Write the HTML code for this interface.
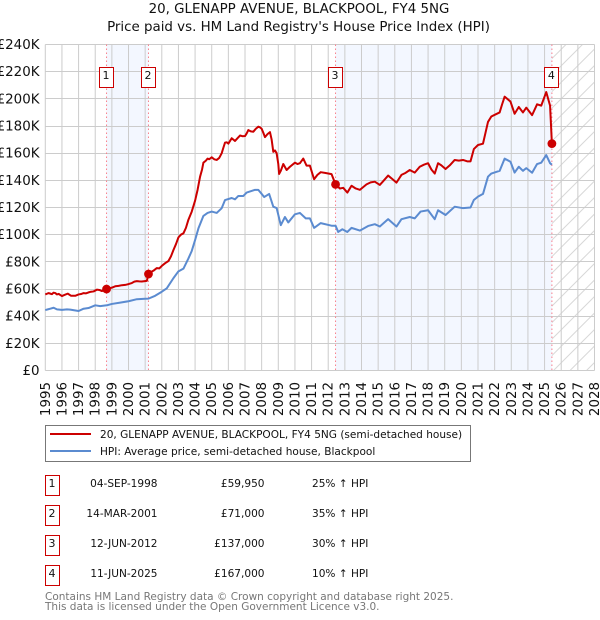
<!DOCTYPE html>
<html>
<head>
<meta charset="utf-8">
<title>20, GLENAPP AVENUE, BLACKPOOL, FY4 5NG</title>
<style>
html,body{margin:0;padding:0;background:#fff;}
svg{display:block;}
text{font-family:"DejaVu Sans","Liberation Sans",sans-serif;fill:#111;}
</style>
</head>
<body>
<svg id="chart" width="600" height="620" viewBox="0 0 600 620" xmlns="http://www.w3.org/2000/svg">
<defs>
<pattern id="hatch" patternUnits="userSpaceOnUse" width="16.5" height="16.5">
<path d="M-2 18.5L18.5 -2M-2 2L2 -2M14.5 18.5L18.5 14.5" stroke="#d8d8d8" stroke-width="1" fill="none"/>
</pattern>
</defs>
<text x="299" y="13" font-size="13.4" text-anchor="middle">20, GLENAPP AVENUE, BLACKPOOL, FY4 5NG</text>
<text x="298.5" y="31" font-size="13.4" text-anchor="middle">Price paid vs. HM Land Registry's House Price Index (HPI)</text>
<g id="bands"></g>
<g id="grid"></g>
<g id="vlines"></g>
<g id="series"></g>
<g id="marks"></g>
<g id="yaxis"></g>
<g id="xaxis"></g>

<g>
<rect x="45.5" y="425.5" width="425" height="36" fill="#fff" stroke="#777" stroke-width="1"/>
<line x1="50" x2="91" y1="434" y2="434" stroke="#cc0000" stroke-width="2"/>
<text x="100" y="438" font-size="10.55">20, GLENAPP AVENUE, BLACKPOOL, FY4 5NG (semi-detached house)</text>
<line x1="50" x2="91" y1="451" y2="451" stroke="#5b8bd0" stroke-width="2"/>
<text x="100" y="455" font-size="10.55">HPI: Average price, semi-detached house, Blackpool</text>
</g>
<g id="table"></g>
<text x="45" y="600" font-size="10.5" style="fill:#777">Contains HM Land Registry data © Crown copyright and database right 2025.</text>
<text x="45" y="610" font-size="10.5" style="fill:#777">This data is licensed under the Open Government Licence v3.0.</text>
</svg>
<script>
var yTicks = [0,20,40,60,80,100,120,140,160,180,200,220,240];
var yTickLabels = ["£0","£20K","£40K","£60K","£80K","£100K","£120K","£140K","£160K","£180K","£200K","£220K","£240K"];
var xTicks = [1995,1996,1997,1998,1999,2000,2001,2002,2003,2004,2005,2006,2007,2008,2009,2010,2011,2012,2013,2014,2015,2016,2017,2018,2019,2020,2021,2022,2023,2024,2025,2026,2027,2028];

var priceDates = [1995,1995.1,1995.2,1995.3,1995.4,1995.5,1995.6,1995.7,1995.8,1996,1996.15,1996.35,1996.55,1996.8,1997,1997.15,1997.3,1997.45,1997.6,1997.75,1997.9,1998.1,1998.25,1998.4,1998.68,1998.85,1999,1999.2,1999.4,1999.6,1999.8,2000,2000.2,2000.35,2000.5,2000.65,2000.8,2001.1,2001.2,2001.35,2001.5,2001.7,2001.85,2002,2002.2,2002.4,2002.55,2002.7,2002.85,2003,2003.15,2003.3,2003.45,2003.6,2003.8,2004,2004.15,2004.3,2004.42,2004.5,2004.65,2004.75,2004.85,2005,2005.15,2005.3,2005.45,2005.6,2005.7,2005.8,2005.9,2006,2006.1,2006.2,2006.4,2006.55,2006.7,2006.85,2007,2007.1,2007.2,2007.35,2007.5,2007.65,2007.8,2007.9,2008,2008.1,2008.2,2008.35,2008.5,2008.6,2008.7,2008.8,2008.9,2009,2009.05,2009.15,2009.3,2009.5,2009.7,2010,2010.15,2010.3,2010.5,2010.7,2010.9,2011.15,2011.35,2011.55,2011.8,2012.2,2012.44,2012.7,2012.9,2013.15,2013.4,2013.65,2013.9,2014.1,2014.3,2014.55,2014.8,2015.1,2015.35,2015.6,2015.85,2016.1,2016.4,2016.65,2016.9,2017.2,2017.5,2017.75,2018,2018.2,2018.4,2018.6,2018.8,2019.05,2019.3,2019.6,2019.85,2020.1,2020.35,2020.55,2020.75,2021,2021.3,2021.45,2021.6,2021.8,2022.05,2022.3,2022.45,2022.6,2022.95,2023.2,2023.45,2023.7,2023.9,2024.25,2024.55,2024.8,2025.1,2025.33,2025.44];
var priceValues = [56,56.5,57,56.6,56.2,57.3,57,56,56.4,54.8,55.6,56.6,55,55,56,56.3,57,56.8,57.5,58,58.2,59.5,59.3,58.5,59.95,60.5,61,62,62.3,62.8,63,63.6,64.4,65.4,65.8,65.6,65.5,66,71,72.5,73.5,75.4,75.2,77,79,80.6,84,88.7,93,98,100,101,105,111,117,125,133,142.7,148,153,154.5,156,155.5,157,155.5,155,156.5,160,164,167.8,168,167,169,171,169,171,173,172.5,172.6,174.5,177,176,175.8,178,179.5,179,178,175,171.8,174,175.5,170,161,162,160,152,144.7,147,152,147.6,150,153,152,152.6,156,150.8,150.8,140.8,144,146,145.5,144.6,137,134,134.5,131,136,134,133,135,137,138.5,139,136.6,140,143.5,141,138.3,144,145.5,147.6,145.7,150,151.5,152.6,148,145,152.6,151,148.3,151,155,154.5,155,154,154,163,166,167,175,183,187,188.5,190,196,201.6,198,189,194,190,193.5,188,196,195,205,195,167];

var hpiDates = [1995,1995.15,1995.3,1995.5,1995.7,1996,1996.3,1996.5,1997,1997.3,1997.6,1998,1998.3,1998.7,1999,1999.5,2000,2000.5,2001,2001.2,2001.6,2002,2002.3,2002.7,2003,2003.3,2003.6,2003.8,2004,2004.2,2004.5,2004.75,2005,2005.3,2005.6,2005.8,2006.2,2006.4,2006.6,2006.9,2007.1,2007.35,2007.6,2007.8,2008,2008.15,2008.45,2008.7,2008.9,2009.15,2009.4,2009.6,2010,2010.3,2010.65,2010.9,2011.15,2011.55,2012.2,2012.44,2012.6,2012.85,2013.15,2013.4,2013.9,2014.4,2014.8,2015.1,2015.6,2016.1,2016.4,2016.9,2017.2,2017.55,2018,2018.4,2018.6,2019.05,2019.6,2020.1,2020.55,2020.75,2021,2021.3,2021.6,2021.8,2022.3,2022.6,2022.95,2023.2,2023.45,2023.7,2023.9,2024.25,2024.55,2024.8,2025.1,2025.33,2025.44];
var hpiValues = [44.5,45,45.5,46.2,45,44.6,45,44.8,43.8,45.5,46,48,47.4,48,49,50,51,52.5,52.8,52.9,55,58,60.5,68,73,75,82.5,88,96,104.6,113.8,116,117,116,119.5,125.5,127,126,128.5,128.5,131,132,133,133,130,127.7,130,120.6,119.6,107,113,109,115,116,112,112,105,108.5,106.6,106.6,102,104,102,105,103,106.4,107.7,106,111.4,106,111.4,113,112,117,118,111.4,118,114.5,120.6,119.5,120,125.5,128,130,142.7,145,147,156,153.7,145.7,150,147,149,145.6,152,153,158.6,152.6,151.5];

var saleLabels = ["1","2","3","4"];
var saleYears = [1998.68,2001.2,2012.44,2025.44];
var salePrices = [59.95,71,137,167];
var saleDateText = ["04-SEP-1998","14-MAR-2001","12-JUN-2012","11-JUN-2025"];
var salePriceText = ["£59,950","£71,000","£137,000","£167,000"];
var saleHpiText = ["25% ↑ HPI","35% ↑ HPI","30% ↑ HPI","10% ↑ HPI"];

var NS = "http://www.w3.org/2000/svg";
var xScale = function (year) { return 45.3 + (year - 1995) * (594.5 - 45.3) / 33; };
var yScale = function (k) { return 370.5 - k * (370.5 - 44.5) / 240; };
function mk(parent, tag, attrs, text) {
  var el = document.createElementNS(NS, tag);
  for (var k in attrs) el.setAttribute(k, attrs[k]);
  if (text !== undefined) el.textContent = text;
  parent.appendChild(el);
  return el;
}
var g, el, i;

g = document.getElementById("bands");
el = mk(g, "rect", {x: xScale(saleYears[0]), y: 44.5, width: xScale(saleYears[1]) - xScale(saleYears[0]), height: 326, fill: "#f3f7ff"});


el = mk(g, "rect", {x: xScale(saleYears[2]), y: 44.5, width: xScale(saleYears[3]) - xScale(saleYears[2]), height: 326, fill: "#f3f7ff"});


el = mk(g, "rect", {x: xScale(saleYears[3]), y: 44.5, width: 594.5 - xScale(saleYears[3]), height: 326, fill: "url(#hatch)"});



g = document.getElementById("grid");
for (i = 0; i < yTicks.length; i++) {
  el = mk(g, "line", {x1: 45.3, x2: 594.5, y1: Math.round(yScale(yTicks[i]) - 0.5) + 0.5, y2: Math.round(yScale(yTicks[i]) - 0.5) + 0.5, stroke: "#cccccc", "stroke-width": 1});
  
  
}
for (i = 0; i < xTicks.length; i++) {
  el = mk(g, "line", {x1: xScale(xTicks[i]), x2: xScale(xTicks[i]), y1: 44.5, y2: 370.5, stroke: "#cccccc", "stroke-width": 1});
  
  
}

g = document.getElementById("vlines");
for (i = 0; i < saleYears.length; i++) {
  el = mk(g, "line", {x1: xScale(saleYears[i]), x2: xScale(saleYears[i]), y1: 44.5, y2: 370.5, stroke: "#f8808c", "stroke-width": 1, "stroke-dasharray": "1.5,2.5"});
  
  
}

function linePath(dates, values) {
  var d = "";
  for (var j = 0; j < dates.length; j++) {
    d += (j ? "L" : "M") + xScale(dates[j]).toFixed(2) + " " + yScale(values[j]).toFixed(2);
  }
  return d;
}
g = document.getElementById("series");
el = mk(g, "path", {d: linePath(hpiDates, hpiValues), fill: "none", stroke: "#5b8bd0", "stroke-width": 2, "stroke-linejoin": "round"});


el = mk(g, "path", {d: linePath(priceDates, priceValues), fill: "none", stroke: "#cc0000", "stroke-width": 2, "stroke-linejoin": "round"});



g = document.getElementById("marks");
for (i = 0; i < saleYears.length; i++) {
  el = mk(g, "circle", {cx: xScale(saleYears[i]), cy: yScale(salePrices[i]), r: 4.4, fill: "#cc0000"});
  
  
  el = mk(g, "rect", {x: Math.round(xScale(saleYears[i]) - 7.5) + 0.5, y: 67.5, width: 14, height: 20, fill: "#fff", stroke: "#cc0000", "stroke-width": 1});
  
  
  el = mk(g, "text", {x: xScale(saleYears[i]) - 0.5, y: 79, "font-size": 11, "text-anchor": "middle"}, saleLabels[i]);
  
  
}

g = document.getElementById("yaxis");
for (i = 0; i < yTicks.length; i++) {
  el = mk(g, "text", {x: 39.5, y: yScale(yTicks[i]) + 4.5, "font-size": 13.4, "text-anchor": "end"}, yTickLabels[i]);
  
  
}

g = document.getElementById("xaxis");
for (i = 0; i < xTicks.length; i++) {
  var tx = xScale(xTicks[i]) + 4.5;
  el = mk(g, "text", {x: tx, y: 382, "font-size": 13.4, "text-anchor": "end", transform: "rotate(-90 " + tx + " 382)"}, String(xTicks[i]));
  
  
}

g = document.getElementById("table");
for (i = 0; i < saleLabels.length; i++) {
  var rowTop = 475.5 + i * 30;
  el = mk(g, "rect", {x: 45.5, y: rowTop, width: 14, height: 20, fill: "#fff", stroke: "#cc0000", "stroke-width": 1});
  
  
  el = mk(g, "text", {x: 52, y: rowTop + 11.5, "font-size": 11, "text-anchor": "middle"}, saleLabels[i]);
  
  
  el = mk(g, "text", {x: 157.5, y: rowTop + 11.5, "font-size": 10.55, "text-anchor": "end"}, saleDateText[i]);
  
  
  el = mk(g, "text", {x: 264.5, y: rowTop + 11.5, "font-size": 10.55, "text-anchor": "end"}, salePriceText[i]);
  
  
  el = mk(g, "text", {x: 312, y: rowTop + 11.5, "font-size": 10.55}, saleHpiText[i]);
  
  
}
</script>
</body>
</html>
